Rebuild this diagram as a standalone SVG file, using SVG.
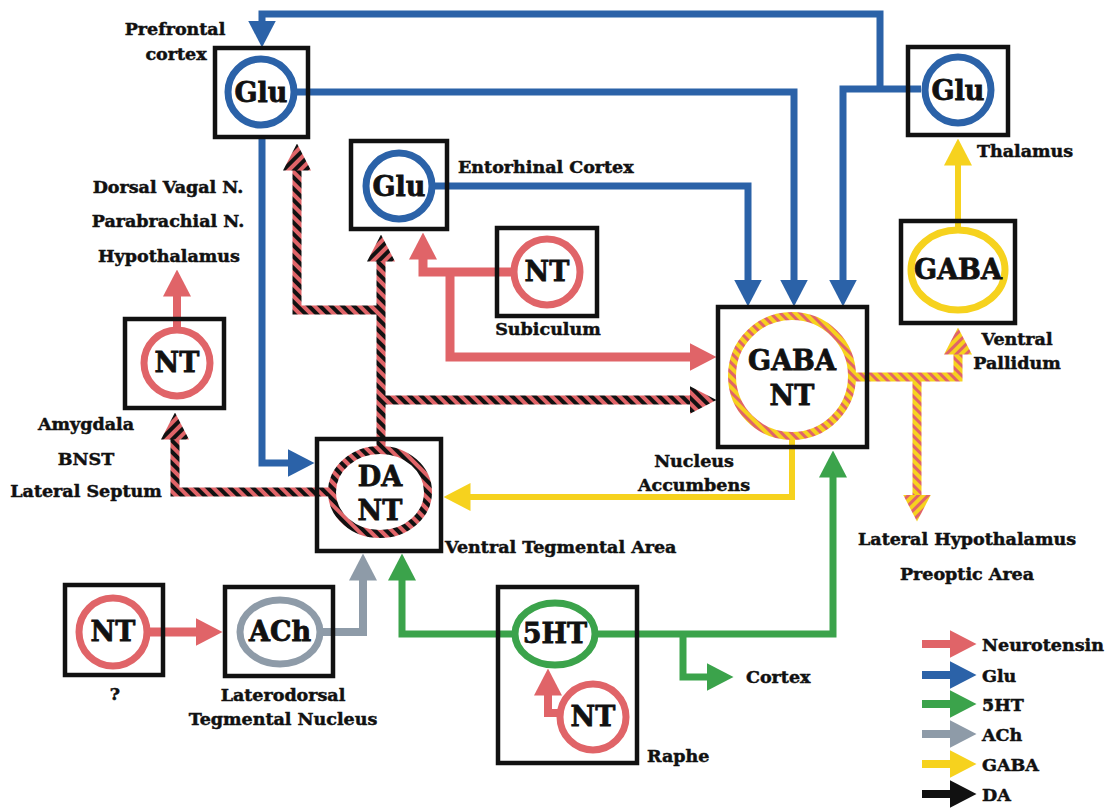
<svg xmlns="http://www.w3.org/2000/svg" width="1110" height="808" viewBox="0 0 1110 808">
<style>
.box{fill:none;stroke:#111;stroke-width:4.5}
.ring{fill:#fff;stroke-width:7}
.t{font-family:"DejaVu Serif","Liberation Serif",serif;font-weight:bold;fill:#111;stroke:#111}
.lbl{font-size:17.5px;stroke-width:0.5}
.nd{font-size:27px;text-anchor:middle;stroke-width:0.8}
.c{text-anchor:middle}
.ln{fill:none;stroke-linejoin:miter;stroke-linecap:butt}
.red{stroke:#e06468}
.blue{stroke:#2b62a8}
.green{stroke:#3ba34b}
.grey{stroke:#8e9ba8}
.yel{stroke:#f6d21e}
.blk{stroke:#111}
</style>
<defs>
<pattern id="pDA" width="8" height="8" patternUnits="userSpaceOnUse" patternTransform="rotate(-45)">
<rect width="8" height="8" fill="#e06468"/><rect width="4" height="8" fill="#111"/>
</pattern>
<pattern id="pGN" width="7" height="7" patternUnits="userSpaceOnUse" patternTransform="rotate(-45)">
<rect width="7" height="7" fill="#f6d21e"/><rect width="3" height="7" fill="#e06468"/>
</pattern>
<marker id="mRed" markerUnits="userSpaceOnUse" viewBox="0 -14 27 28" refX="0.5" refY="0" markerWidth="27" markerHeight="28" orient="auto"><path d="M0,-14 L27,0 L0,14 z" fill="#e06468"/></marker>
<marker id="mBlue" markerUnits="userSpaceOnUse" viewBox="0 -14 27 28" refX="0.5" refY="0" markerWidth="27" markerHeight="28" orient="auto"><path d="M0,-14 L27,0 L0,14 z" fill="#2b62a8"/></marker>
<marker id="mGreen" markerUnits="userSpaceOnUse" viewBox="0 -14 27 28" refX="0.5" refY="0" markerWidth="27" markerHeight="28" orient="auto"><path d="M0,-14 L27,0 L0,14 z" fill="#3ba34b"/></marker>
<marker id="mGrey" markerUnits="userSpaceOnUse" viewBox="0 -14 27 28" refX="0.5" refY="0" markerWidth="27" markerHeight="28" orient="auto"><path d="M0,-14 L27,0 L0,14 z" fill="#8e9ba8"/></marker>
<marker id="mYel" markerUnits="userSpaceOnUse" viewBox="0 -14 27 28" refX="0.5" refY="0" markerWidth="27" markerHeight="28" orient="auto"><path d="M0,-14 L27,0 L0,14 z" fill="#f6d21e"/></marker>
<marker id="mBlk" markerUnits="userSpaceOnUse" viewBox="0 -14 27 28" refX="0.5" refY="0" markerWidth="27" markerHeight="28" orient="auto"><path d="M0,-14 L27,0 L0,14 z" fill="#111"/></marker>
<marker id="mDA" markerUnits="userSpaceOnUse" viewBox="0 -14 27 28" refX="0.5" refY="0" markerWidth="27" markerHeight="28" orient="auto"><path d="M0,-14 L27,0 L0,14 z" fill="url(#pDA)"/></marker>
<marker id="mGN" markerUnits="userSpaceOnUse" viewBox="0 -14 27 28" refX="0.5" refY="0" markerWidth="27" markerHeight="28" orient="auto"><path d="M0,-14 L27,0 L0,14 z" fill="url(#pGN)"/></marker>
</defs>
<rect width="1110" height="808" fill="#fff"/>

<g id="connectors">
<!-- Glutamate -->
<path class="ln blue" stroke-width="7" d="M880,89 V14 H262 V21" marker-end="url(#mBlue)"/>
<path class="ln blue" stroke-width="7" d="M921,89 H843 V280" marker-end="url(#mBlue)"/>
<path class="ln blue" stroke-width="7" d="M295,92 H794 V280" marker-end="url(#mBlue)"/>
<path class="ln blue" stroke-width="7" d="M433,186 H748 V280" marker-end="url(#mBlue)"/>
<path class="ln blue" stroke-width="7" d="M262,137 V463 H288" marker-end="url(#mBlue)"/>
<!-- Neurotensin -->
<path class="ln red" stroke-width="8" d="M177,327 V296" marker-end="url(#mRed)"/>
<path class="ln red" stroke-width="9" d="M512,272 H423 V259" marker-end="url(#mRed)"/>
<path class="ln red" stroke-width="9" d="M450,272 V357 H690" marker-end="url(#mRed)"/>
<path class="ln red" stroke-width="9" d="M148,632 H196" marker-end="url(#mRed)"/>
<path class="ln red" stroke-width="8" d="M562,713 H548 V695" marker-end="url(#mRed)"/>
<!-- ACh -->
<path class="ln grey" stroke-width="8" d="M321,632 H363 V580" marker-end="url(#mGrey)"/>
<!-- 5HT -->
<path class="ln green" stroke-width="7" d="M514,634 H402 V580" marker-end="url(#mGreen)"/>
<path class="ln green" stroke-width="7" d="M596,634 H833 V477" marker-end="url(#mGreen)"/>
<path class="ln green" stroke-width="7" d="M683,634 V677 H707" marker-end="url(#mGreen)"/>
<!-- GABA -->
<path class="ln yel" stroke-width="6" d="M792,440 V497 H470" marker-end="url(#mYel)"/>
<path class="ln yel" stroke-width="6" d="M958,228 V165" marker-end="url(#mYel)"/>
<!-- GABA + NT -->
<path class="ln" stroke="url(#pGN)" stroke-width="9" d="M853,377 H958 V354" marker-end="url(#mGN)"/>
<path class="ln" stroke="url(#pGN)" stroke-width="9" d="M917,377 V495" marker-end="url(#mGN)"/>
<!-- DA + NT -->
<path class="ln" stroke="url(#pDA)" stroke-width="9" d="M381,448 V261" marker-end="url(#mDA)"/>
<path class="ln" stroke="url(#pDA)" stroke-width="9" d="M381,400 H690" marker-end="url(#mDA)"/>
<path class="ln" stroke="url(#pDA)" stroke-width="9" d="M381,310 H297 V170" marker-end="url(#mDA)"/>
<path class="ln" stroke="url(#pDA)" stroke-width="9" d="M330,492 H175 V439" marker-end="url(#mDA)"/>
</g>

<g id="prefrontal">
<rect class="box" x="215" y="48" width="93" height="89"/>
<circle class="ring" stroke="#2b62a8" cx="261" cy="92" r="33"/>
<text class="t nd" x="261" y="102" font-size="30">Glu</text>
<text class="t lbl c" x="175" y="35">Prefrontal</text>
<text class="t lbl c" x="176" y="60">cortex</text>
</g>

<g id="entorhinal">
<rect class="box" x="351" y="141" width="96" height="88"/>
<circle class="ring" stroke="#2b62a8" cx="399" cy="186" r="33"/>
<text class="t nd" x="399" y="196" font-size="30">Glu</text>
<text class="t lbl" x="458" y="173">Entorhinal Cortex</text>
</g>

<g id="thalamus">
<rect class="box" x="908" y="47" width="100" height="88"/>
<circle class="ring" stroke="#2b62a8" cx="958" cy="90" r="33"/>
<text class="t nd" x="958" y="100" font-size="30">Glu</text>
<text class="t lbl" x="977" y="157">Thalamus</text>
</g>

<g id="ventral-pallidum">
<rect class="box" x="901" y="221" width="114" height="102"/>
<ellipse class="ring" stroke="#f6d21e" stroke-width="6" cx="958" cy="270" rx="47" ry="40"/>
<text class="t nd" x="958" y="279">GABA</text>
<text class="t lbl c" x="1017" y="345">Ventral</text>
<text class="t lbl c" x="1017" y="369">Pallidum</text>
</g>

<g id="subiculum">
<rect class="box" x="497" y="228" width="100" height="88"/>
<circle class="ring" stroke="#e06468" cx="547" cy="272" r="33"/>
<text class="t nd" x="547" y="281">NT</text>
<text class="t lbl c" x="548" y="335">Subiculum</text>
</g>

<g id="nucleus-accumbens">
<rect class="box" x="718" y="307" width="149" height="140"/>
<circle fill="#fff" stroke="url(#pGN)" stroke-width="8" cx="792" cy="376" r="60"/>
<text class="t nd" x="792" y="370" font-size="29">GABA</text>
<text class="t nd" x="792" y="405">NT</text>
<text class="t lbl c" x="694" y="467">Nucleus</text>
<text class="t lbl c" x="694" y="491">Accumbens</text>
</g>

<g id="hypothalamus-nt">
<rect class="box" x="125" y="319" width="99" height="89"/>
<circle class="ring" stroke="#e06468" cx="177" cy="363" r="33"/>
<text class="t nd" x="177" y="372">NT</text>
<text class="t lbl c" x="168" y="193">Dorsal Vagal N.</text>
<text class="t lbl c" x="168" y="227">Parabrachial N.</text>
<text class="t lbl c" x="169" y="262">Hypothalamus</text>
</g>

<g id="vta">
<rect class="box" x="317" y="439" width="124" height="112"/>
<ellipse fill="#fff" stroke="url(#pDA)" stroke-width="8" cx="380" cy="492" rx="48" ry="42"/>
<text class="t nd" x="380" y="486">DA</text>
<text class="t nd" x="380" y="520">NT</text>
<text class="t lbl" x="445" y="553">Ventral Tegmental Area</text>
<text class="t lbl c" x="86" y="430">Amygdala</text>
<text class="t lbl c" x="86" y="465">BNST</text>
<text class="t lbl c" x="86" y="497">Lateral Septum</text>
</g>

<g id="unknown-nt">
<rect class="box" x="65" y="585" width="98" height="90"/>
<circle class="ring" stroke="#e06468" cx="113" cy="632" r="34"/>
<text class="t nd" x="113" y="641">NT</text>
<text class="t lbl c" x="115" y="700">?</text>
</g>

<g id="laterodorsal">
<rect class="box" x="225" y="587" width="108" height="89"/>
<ellipse class="ring" stroke="#8e9ba8" cx="280" cy="632" rx="40" ry="32"/>
<text class="t nd" x="280" y="641">ACh</text>
<text class="t lbl c" x="283" y="701">Laterodorsal</text>
<text class="t lbl c" x="283" y="725">Tegmental Nucleus</text>
</g>

<g id="raphe">
<rect class="box" x="498" y="587" width="139" height="176"/>
<ellipse class="ring" stroke="#3ba34b" cx="555" cy="634" rx="40" ry="31"/>
<text class="t nd" x="555" y="643" font-size="24">5HT</text>
<circle class="ring" stroke="#e06468" cx="593" cy="717" r="33"/>
<text class="t nd" x="593" y="726">NT</text>
<text class="t lbl" x="647" y="762">Raphe</text>
</g>

<g id="targets">
<text class="t lbl" x="746" y="683">Cortex</text>
<text class="t lbl c" x="967" y="545">Lateral Hypothalamus</text>
<text class="t lbl c" x="967" y="580">Preoptic Area</text>
</g>

<g id="legend">
<path class="ln red" stroke-width="8" d="M922,644 H950" marker-end="url(#mRed)"/>
<path class="ln blue" stroke-width="8" d="M922,675 H950" marker-end="url(#mBlue)"/>
<path class="ln green" stroke-width="8" d="M922,704 H950" marker-end="url(#mGreen)"/>
<path class="ln grey" stroke-width="8" d="M922,734 H950" marker-end="url(#mGrey)"/>
<path class="ln yel" stroke-width="8" d="M922,764 H950" marker-end="url(#mYel)"/>
<path class="ln blk" stroke-width="8" d="M922,794 H950" marker-end="url(#mBlk)"/>
<text class="t lbl" x="982" y="651">Neurotensin</text>
<text class="t lbl" x="982" y="682">Glu</text>
<text class="t lbl" x="982" y="711">5HT</text>
<text class="t lbl" x="982" y="741">ACh</text>
<text class="t lbl" x="982" y="771">GABA</text>
<text class="t lbl" x="982" y="801">DA</text>
</g>
</svg>
